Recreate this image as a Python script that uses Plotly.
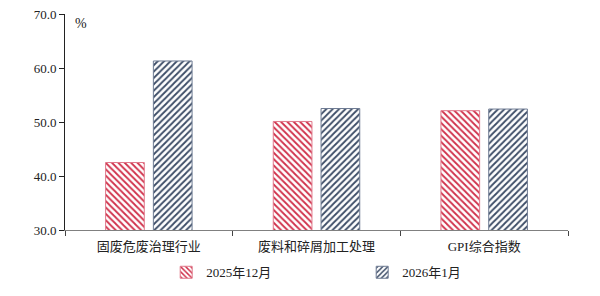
import plotly.graph_objects as go

categories = ["固废危废治理行业", "废料和碎屑加工处理", "GPI综合指数"]
series_names = ["2025年12月", "2026年1月"]
dec_2025 = [42.5, 50.1, 52.1]
jan_2026 = [61.3, 52.5, 52.4]
y_ticks = [30, 40, 50, 60, 70]

FONT = "Liberation Serif, Times New Roman, Noto Sans CJK SC, serif"
RED = "#d0304a"
BLUE = "#3c4c66"

fig = go.Figure()
fig.add_trace(go.Bar(
    x=categories, y=dec_2025, name=series_names[0],
    marker=dict(color="white", opacity=1, line=dict(color="#e07a8c", width=1),
                pattern=dict(shape="\\", fgcolor=RED, bgcolor="white", fgopacity=1,
                             fillmode="replace", size=4.5, solidity=0.4)),
))
fig.add_trace(go.Bar(
    x=categories, y=jan_2026, name=series_names[1],
    marker=dict(color="white", opacity=1, line=dict(color="#6f7c94", width=1),
                pattern=dict(shape="/", fgcolor=BLUE, bgcolor="white", fgopacity=1,
                             fillmode="replace", size=4.5, solidity=0.4)),
))

fig.update_layout(
    width=600, height=296,
    margin=dict(l=65, r=32, t=14, b=66, autoexpand=False),
    plot_bgcolor="white", paper_bgcolor="white",
    font=dict(family=FONT, size=13, color="#222"),
    barmode="group", bargap=0.43, bargroupgap=0.19,
    showlegend=True,
    legend=dict(orientation="h", xref="container", yref="container",
                x=0.277, xanchor="left", y=0.08, yanchor="middle",
                entrywidth=151, entrywidthmode="pixels", itemwidth=30,
                font=dict(family=FONT, size=13), bgcolor="rgba(0,0,0,0)"),
    xaxis=dict(showline=True, linecolor="#808080", linewidth=1,
               ticks="outside", tickson="boundaries", ticklen=5, tickcolor="#444",
               ticklabelstandoff=4,
               tickfont=dict(family=FONT, size=13), showgrid=False),
    yaxis=dict(range=[30, 70], tickvals=y_ticks, tickformat=".1f",
               showline=True, linecolor="#222", linewidth=1,
               ticks="outside", ticklen=5, tickcolor="#222",
               showgrid=False, zeroline=False, tickfont=dict(family=FONT, size=13)),
    annotations=[dict(text="%", xref="paper", yref="paper", x=0.016, y=1.0,
                      xanchor="left", yanchor="top", showarrow=False,
                      font=dict(family=FONT, size=14))],
)

fig.write_html("out.html")
